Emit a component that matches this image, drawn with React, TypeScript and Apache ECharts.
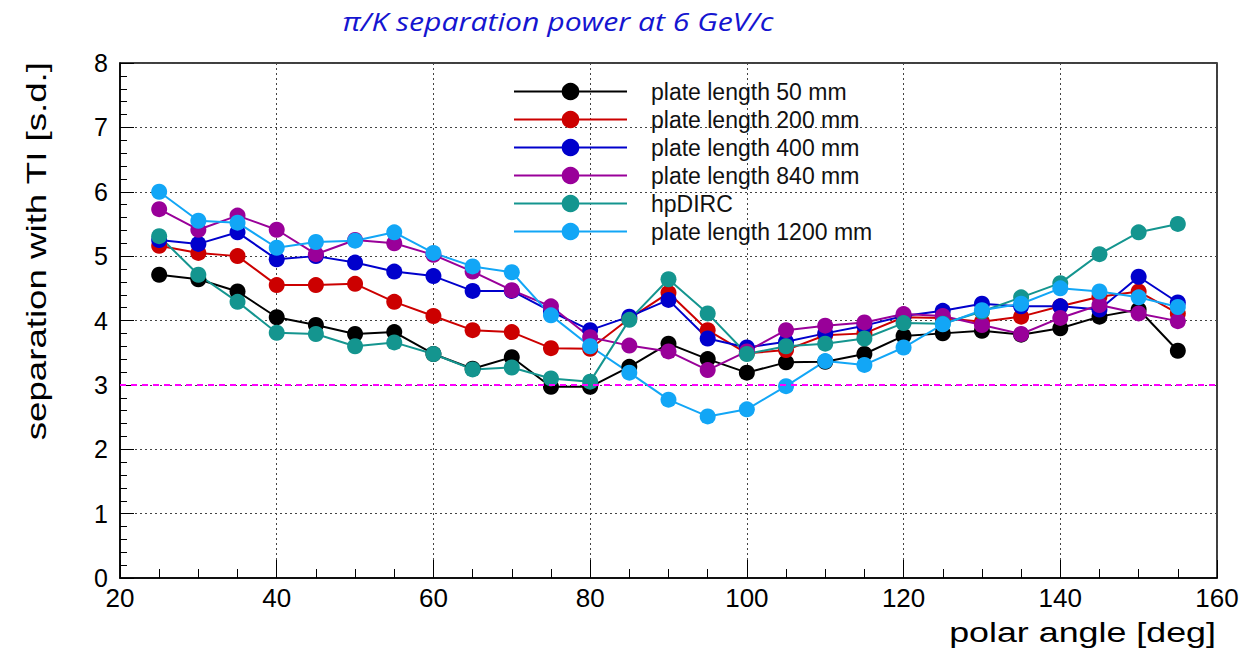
import React, { useEffect, useRef } from "react";
import * as echarts from "echarts";

const angles = [25, 30, 35, 40, 45, 50, 55, 60, 65, 70, 75, 80, 85, 90, 95, 100, 105, 110, 115, 120, 125, 130, 135, 140, 145, 150, 155];

const plate50 = [4.71, 4.64, 4.45, 4.05, 3.93, 3.79, 3.82, 3.48, 3.25, 3.43, 2.97, 2.97, 3.28, 3.64, 3.4, 3.19, 3.35, 3.36, 3.48, 3.76, 3.8, 3.84, 3.78, 3.88, 4.06, 4.17, 3.53];
const plate200 = [5.16, 5.05, 5.0, 4.55, 4.55, 4.57, 4.29, 4.07, 3.85, 3.82, 3.57, 3.56, 4.03, 4.43, 3.85, 3.49, 3.54, 3.77, 3.8, 4.05, 4.04, 3.98, 4.06, 4.22, 4.37, 4.45, 4.11];
const plate400 = [5.25, 5.19, 5.37, 4.95, 5.0, 4.9, 4.76, 4.69, 4.46, 4.46, 4.14, 3.85, 4.06, 4.32, 3.72, 3.58, 3.67, 3.8, 3.92, 4.07, 4.15, 4.26, 4.22, 4.22, 4.17, 4.68, 4.28];
const plate840 = [5.73, 5.41, 5.63, 5.41, 5.03, 5.25, 5.2, 5.02, 4.76, 4.47, 4.22, 3.74, 3.61, 3.52, 3.23, 3.52, 3.85, 3.92, 3.97, 4.1, 4.07, 3.93, 3.79, 4.04, 4.24, 4.11, 3.99];
const hpDIRC = [5.31, 4.71, 4.29, 3.81, 3.79, 3.6, 3.66, 3.48, 3.24, 3.27, 3.1, 3.05, 4.01, 4.64, 4.11, 3.48, 3.6, 3.64, 3.72, 3.96, 3.95, 4.14, 4.36, 4.58, 5.03, 5.37, 5.5];
const plate1200 = [6.0, 5.55, 5.52, 5.13, 5.22, 5.24, 5.37, 5.05, 4.84, 4.75, 4.08, 3.6, 3.19, 2.77, 2.51, 2.62, 2.98, 3.37, 3.31, 3.58, 3.94, 4.16, 4.26, 4.5, 4.45, 4.36, 4.21];

const seriesNames = ["plate length 50 mm", "plate length 200 mm", "plate length 400 mm", "plate length 840 mm", "hpDIRC", "plate length 1200 mm"];
const seriesValues = [plate50, plate200, plate400, plate840, hpDIRC, plate1200];
const seriesColors = ["#000000", "#cc0000", "#0000cc", "#990099", "#14958f", "#12a6f6"];
const threshold = 3;

const FONT = "'Liberation Sans', Arial, Helvetica, sans-serif";

export default function App() {
  const ref = useRef<HTMLDivElement>(null);
  useEffect(() => {
    if (!ref.current) return;
    const chart = echarts.init(ref.current, null, { renderer: "svg" });
    const series: any[] = seriesNames.map((name, i) => ({
      name,
      type: "line",
      data: angles.map((a, j) => [a, seriesValues[i][j]]),
      symbol: "circle",
      symbolSize: 16,
      lineStyle: { color: seriesColors[i], width: 2 },
      itemStyle: { color: seriesColors[i] },
      z: 3,
    }));
    series[0].markLine = {
      silent: true,
      symbol: "none",
      label: { show: false },
      lineStyle: { color: "#ff00ff", type: [6, 5], width: 2 },
      data: [{ yAxis: threshold }],
    };
    chart.setOption({
      animation: false,
      grid: { left: 120, right: 36, top: 63, bottom: 73, show: true, borderColor: "#000", borderWidth: 1.5, backgroundColor: "transparent" },
      legend: {
        orient: "vertical",
        left: 513,
        top: 80,
        padding: 0,
        itemWidth: 113,
        itemHeight: 22,
        itemGap: 5,
        data: seriesNames,
        textStyle: { fontFamily: FONT, fontSize: 23, color: "#111", padding: [0, 0, 0, 19] },
      },
      xAxis: {
        type: "value",
        min: 20,
        max: 160,
        interval: 20,
        axisLine: { show: true, lineStyle: { color: "#000", width: 1.5 } },
        axisTick: { show: true, inside: true, length: 18, lineStyle: { color: "#000", width: 1 } },
        minorTick: { show: true, splitNumber: 4, length: 9, lineStyle: { color: "#000", width: 1 } },
        axisLabel: { fontFamily: FONT, fontSize: 26, color: "#000", margin: 7 },
        splitLine: { show: true, lineStyle: { color: "#444", type: [2, 3], width: 1 } },
      },
      yAxis: {
        type: "value",
        min: 0,
        max: 8,
        interval: 1,
        axisLine: { show: true, lineStyle: { color: "#000", width: 1.5 } },
        axisTick: { show: true, inside: true, length: 14, lineStyle: { color: "#000", width: 1 } },
        minorTick: { show: true, splitNumber: 5, length: 7, lineStyle: { color: "#000", width: 1 } },
        axisLabel: { fontFamily: FONT, fontSize: 25, color: "#000", margin: 12 },
        splitLine: { show: true, lineStyle: { color: "#444", type: [2, 3], width: 1 } },
      },
      graphic: [
        {
          type: "text",
          x: 558,
          y: 21,
          scaleX: 1.16,
          style: {
            text: "π/K separation power at 6 GeV/c",
            font: "italic 26px 'Open Sans', 'Noto Sans', sans-serif",
            fill: "#1515d0",
            align: "center",
            verticalAlign: "middle",
          },
        },
        {
          type: "text",
          x: 36,
          y: 62,
          rotation: Math.PI / 2,
          scaleX: 1.31,
          style: {
            text: "separation with TI [s.d.]",
            font: "28px 'Liberation Sans', Arial, sans-serif",
            fill: "#000",
            align: "right",
            verticalAlign: "middle",
          },
        },
        {
          type: "text",
          x: 1216,
          y: 632,
          scaleX: 1.28,
          style: {
            text: "polar angle [deg]",
            font: "28px 'Liberation Sans', Arial, sans-serif",
            fill: "#000",
            align: "right",
            verticalAlign: "middle",
          },
        },
      ],
      series,
    });
    return () => chart.dispose();
  }, []);
  return <div ref={ref} style={{ width: 1253, height: 651, position: "absolute", left: 0, top: 0 }} />;
}
